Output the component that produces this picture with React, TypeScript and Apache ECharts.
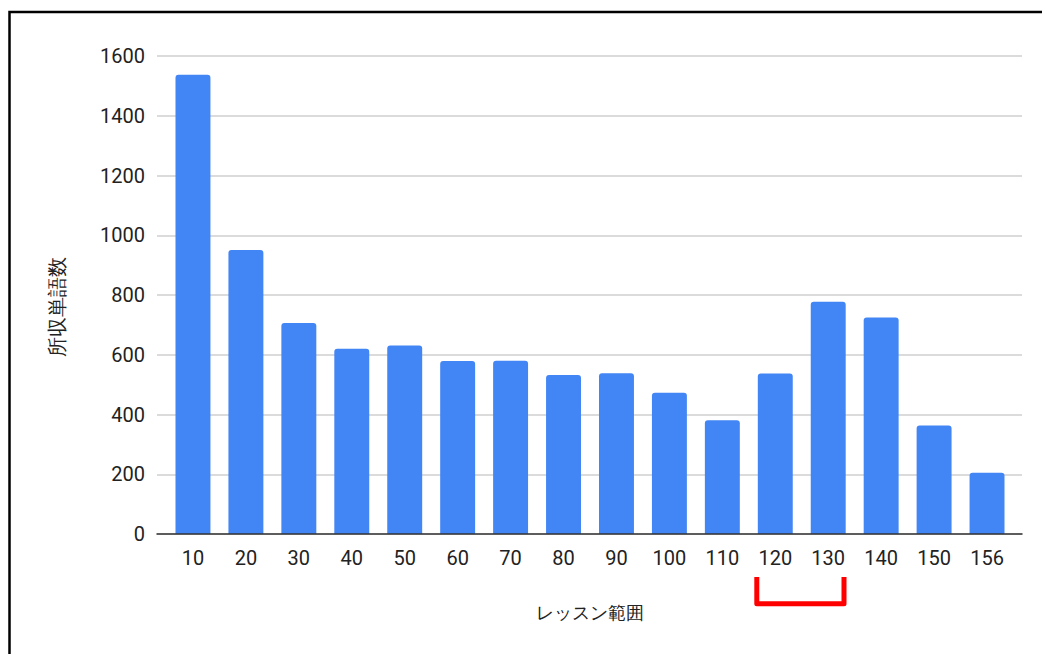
import React, { useEffect, useRef } from "react";
import * as echarts from "echarts";

// Lesson range (upper bound) and number of words covered in each range
const lessonRanges = ["10", "20", "30", "40", "50", "60", "70", "80", "90", "100", "110", "120", "130", "140", "150", "156"];
const wordCounts = [1537, 951, 706, 620, 631, 579, 580, 532, 538, 473, 381, 537, 777, 725, 363, 205];
const yTicks = { min: 0, max: 1600, interval: 200 };

const xTitle = "レッスン範囲";
const yTitle = "所収単語数";

export default function App() {
  const ref = useRef<HTMLDivElement>(null);

  useEffect(() => {
    if (!ref.current) return;
    const chart = echarts.init(ref.current, null, { renderer: "svg" });
    const tickFont = { fontFamily: "Roboto, 'Liberation Sans', sans-serif", fontSize: 20, color: "#222" };
    chart.setOption({
      animation: false,
      backgroundColor: "#fff",
      // grid 0: bars (inset a little); grid 1: gridlines, value labels and baseline (full width)
      grid: [
        { left: 166.5, right: 28.5, top: 56, bottom: 120 },
        { left: 157, right: 20, top: 56, bottom: 120 },
      ],
      xAxis: [
        {
          type: "category",
          gridIndex: 0,
          data: lessonRanges,
          axisLine: { show: false },
          axisTick: { show: false },
          axisLabel: { ...tickFont, margin: 14 },
          name: xTitle,
          nameLocation: "middle",
          nameGap: 70,
          nameTextStyle: { fontFamily: "serif", fontSize: 18, color: "#222" },
        },
        {
          type: "value",
          gridIndex: 1,
          min: 0,
          max: 1,
          axisLine: { show: true, onZero: false, lineStyle: { color: "#333", width: 1.5 } },
          axisTick: { show: false },
          axisLabel: { show: false },
          splitLine: { show: false },
          z: 5,
        },
      ],
      yAxis: [
        {
          type: "value",
          gridIndex: 0,
          min: yTicks.min,
          max: yTicks.max,
          interval: yTicks.interval,
          axisLine: { show: false },
          axisTick: { show: false },
          axisLabel: { show: false },
          splitLine: { show: false },
        },
        {
          type: "value",
          gridIndex: 1,
          min: yTicks.min,
          max: yTicks.max,
          interval: yTicks.interval,
          axisLine: { show: false },
          axisTick: { show: false },
          axisLabel: { ...tickFont, margin: 12, formatter: (v: number) => String(v) },
          splitLine: { lineStyle: { color: "#cfcfcf", width: 1.5 } },
        },
      ],
      series: [
        {
          type: "bar",
          xAxisIndex: 0,
          yAxisIndex: 0,
          data: wordCounts,
          barCategoryGap: "34%",
          z: 3,
          itemStyle: { color: "#4285F4", borderRadius: [3, 3, 0, 0] },
        },
      ],
      graphic: [
        {
          type: "rect",
          silent: true,
          shape: { x: 9.5, y: 12, width: 1100, height: 700 },
          style: { fill: "none", stroke: "#000", lineWidth: 2.5 },
        },
        {
          type: "text",
          x: 57,
          y: 307,
          rotation: Math.PI / 2,
          style: {
            text: yTitle,
            fontFamily: "serif",
            fontSize: 20,
            fill: "#222",
            textAlign: "center",
            textVerticalAlign: "middle",
          },
        },
        {
          type: "polyline",
          silent: true,
          shape: { points: [[756.8, 577], [756.8, 603.7], [844, 603.7], [844, 577]] },
          style: { stroke: "#ff0000", lineWidth: 5, fill: "none", lineJoin: "round" },
        },
      ],
    });
    return () => chart.dispose();
  }, []);

  return (
    <div
      ref={ref}
      style={{ position: "absolute", left: 0, top: 0, width: 1042, height: 654 }}
    />
  );
}
